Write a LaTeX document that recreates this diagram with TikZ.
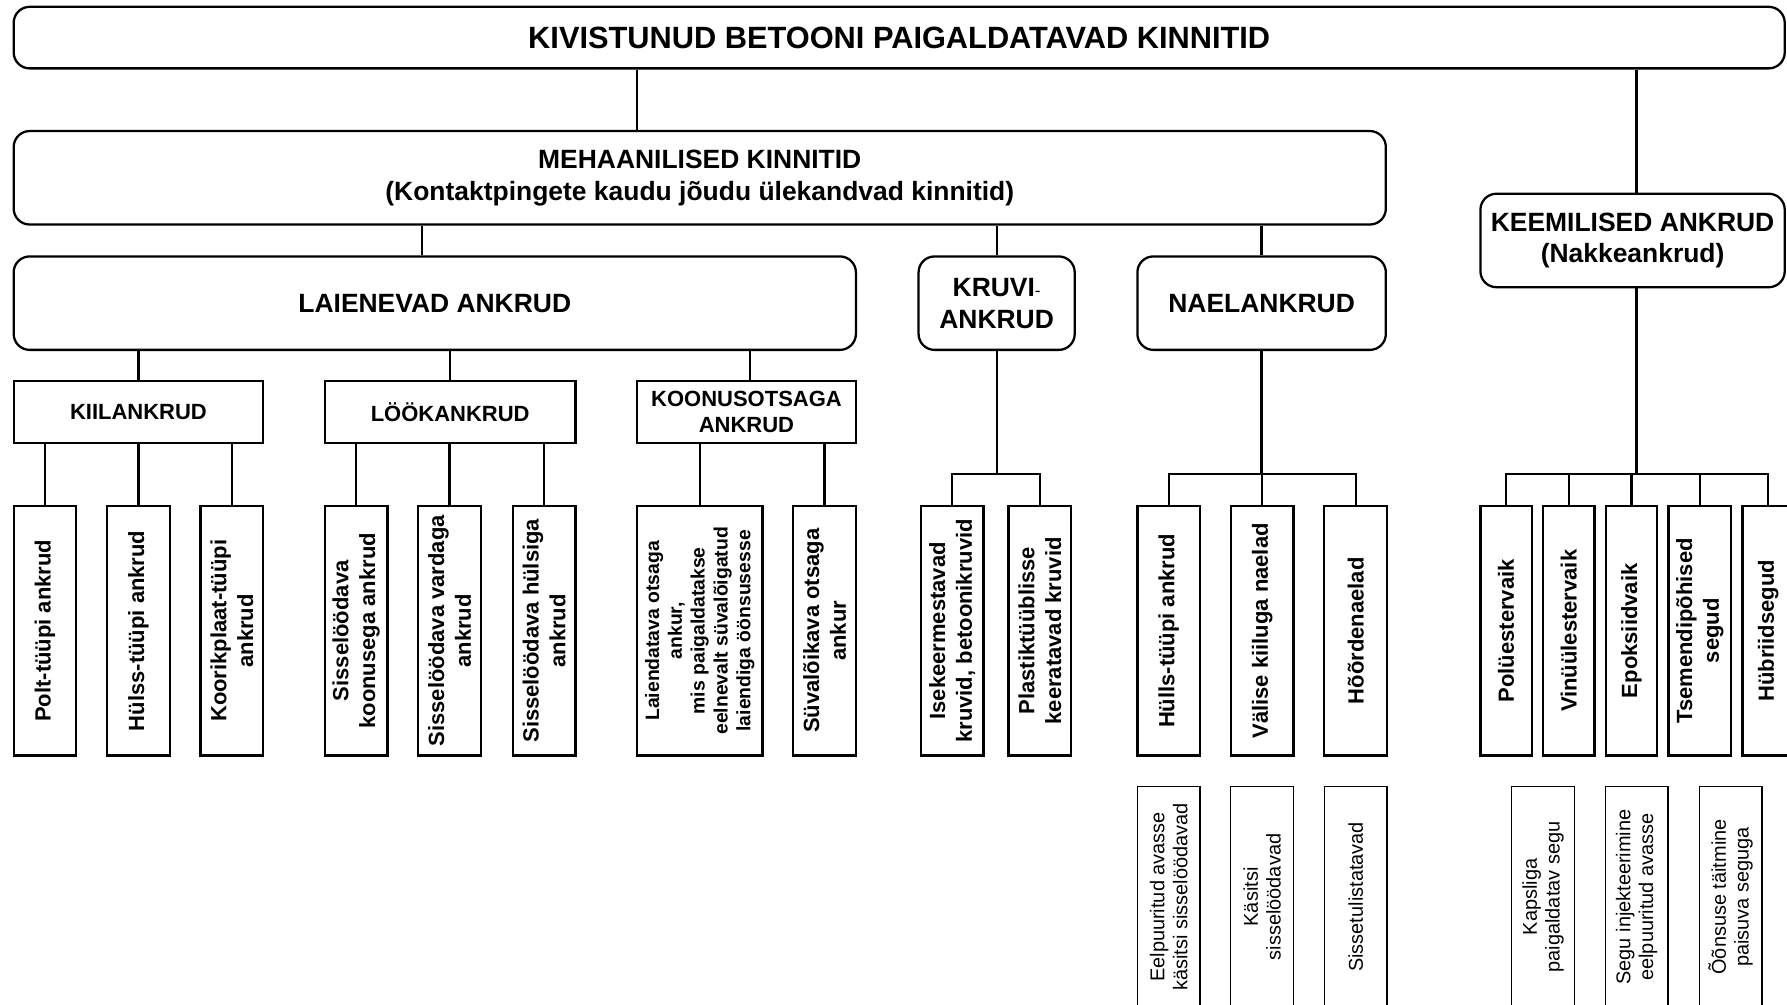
\documentclass[tikz,border=0pt]{standalone}
\usepackage{fontspec}
\setmainfont{Liberation Sans}
\begin{document}
\begin{tikzpicture}[x=1pt,y=-1pt,
  rbox/.style={draw, line width=2pt, rounded corners=14pt, inner sep=0pt, align=center, font=\bfseries\fontsize{23.2}{28}\selectfont},
  sbox/.style={draw, line width=2pt, inner sep=0pt, align=center, minimum height=55pt, font=\bfseries\fontsize{19.3}{23}\selectfont},
  leaf/.style={draw, line width=2pt, inner sep=0pt, align=center, rotate=90, minimum width=219pt, minimum height=55pt, font=\bfseries\fontsize{19.3}{23.5}\selectfont},
  note/.style={draw, line width=1.1pt, inner sep=0pt, align=center, rotate=90, minimum width=194pt, minimum height=55pt, font=\fontsize{17.5}{20}\selectfont},
  conn/.style={line width=2pt}]
\useasboundingbox (0,0) rectangle (1568,881);
\clip (0,0) rectangle (1568,881);

% top levels
\node[rbox, minimum width=1554pt, minimum height=54pt, font=\bfseries\fontsize{27}{32}\selectfont] (top) at (789,33) {KIVISTUNUD BETOONI PAIGALDATAVAD KINNITID};
\node[rbox, minimum width=1204pt, minimum height=82pt] (meh) at (614,156) {MEHAANILISED KINNITID\\(Kontaktpingete kaudu jõudu ülekandvad kinnitid)};
\node[rbox, minimum width=267pt, minimum height=82pt] (keem) at (1432.5,211) {KEEMILISED ANKRUD\\(Nakkeankrud)};

\node[rbox, minimum width=739pt, minimum height=82pt] (laien) at (381.5,266) {LAIENEVAD ANKRUD};
\node[rbox, minimum width=137pt, minimum height=82pt] (kruvi) at (874.5,266) {KRUVI{\mdseries\fontsize{15}{15}\selectfont -}\\ANKRUD};
\node[rbox, minimum width=218pt, minimum height=82pt] (nael) at (1107,266) {NAELANKRUD};

\node[sbox, minimum width=219pt] (kiil) at (121.5,361.5) {KIILANKRUD};
\node[sbox, minimum width=220pt] (look) at (395,361.5) {LÖÖKANKRUD};
\node[sbox, minimum width=192pt] (koon) at (655,361.5) {KOONUSOTSAGA\\ANKRUD};

% leaves
\node[leaf] (k1) at (39.5,553.5) {Polt-tüüpi ankrud};
\node[leaf] (k2) at (121.5,553.5) {Hülss-tüüpi ankrud};
\node[leaf] (k3) at (203.5,553.5) {Koorikplaat-tüüpi\\ankrud};
\node[leaf] (l1) at (312.5,553.5) {Sisselöödava\\koonusega ankrud};
\node[leaf] (l2) at (394.5,553.5) {Sisselöödava vardaga\\ankrud};
\node[leaf] (l3) at (477.5,553.5) {Sisselöödava hülsiga\\ankrud};
\node[leaf, minimum height=110pt, font=\bfseries\fontsize{17}{20}\selectfont] (o1) at (614,553.5) {Laiendatava otsaga\\ankur,\\mis paigaldatakse\\eelnevalt süvalõigatud\\laiendiga öönsusesse};
\node[leaf] (o2) at (723.5,553.5) {Süvalõikava otsaga\\ankur};
\node[leaf] (r1) at (835.5,553.5) {Isekeermestavad\\kruvid, betoonikruvid};
\node[leaf] (r2) at (912.5,553.5) {Plastiktüüblisse\\keeratavad kruvid};
\node[leaf] (n1) at (1025.5,553.5) {Hülls-tüüpi ankrud};
\node[leaf] (n2) at (1107.5,553.5) {Välise kiiluga naelad};
\node[leaf] (n3) at (1189.5,553.5) {Hõõrdenaelad};
\node[leaf, minimum height=45pt] (c1) at (1321.5,553.5) {Polüestervaik};
\node[leaf, minimum height=45pt] (c2) at (1376.5,553.5) {Vinüülestervaik};
\node[leaf, minimum height=45pt] (c3) at (1431.5,553.5) {Epoksiidvaik};
\node[leaf] (c4) at (1491.5,553.5) {Tsemendipõhised\\segud};
\node[leaf, minimum height=45pt] (c5) at (1551.5,553.5) {Hübriidsegud};

% bottom notes
\node[note] (b1) at (1025.5,787) {Eelpuuritud avasse\\käsitsi sisselöödavad};
\node[note] (b2) at (1107.5,787) {Käsitsi\\sisselöödavad};
\node[note] (b3) at (1189.5,787) {Sissetulistatavad};
\node[note] (b4) at (1354,787) {Kapsliga\\paigaldatav segu};
\node[note] (b5) at (1436,787) {Segu injekteerimine\\eelpuuritud avasse};
\node[note] (b6) at (1518.5,787) {Õõnsuse täitmine\\paisuva seguga};

% connectors
\coordinate (xa) at (559,0);
\coordinate (xb) at (1436,0);
\coordinate (xc) at (370,0);
\coordinate (xd) at (658,0);
\coordinate (bar) at (0,416);
\draw[conn] (top.south -| xa) -- (meh.north -| xa);
\draw[conn] (top.south -| xb) -- (keem.north -| xb);
\draw[conn] (meh.south -| xc) -- (laien.north -| xc);
\draw[conn] (meh.south -| kruvi.north) -- (kruvi.north);
\draw[conn] (meh.south -| nael.north) -- (nael.north);
\draw[conn] (laien.south -| kiil.north) -- (kiil.north);
\draw[conn] (laien.south -| look.north) -- (look.north);
\draw[conn] (laien.south -| xd) -- (koon.north -| xd);
\foreach \n in {k1,k2,k3} \draw[conn] (kiil.south -| \n.east) -- (\n.east);
\foreach \n in {l1,l2,l3} \draw[conn] (look.south -| \n.east) -- (\n.east);
\foreach \n in {o1,o2} \draw[conn] (koon.south -| \n.east) -- (\n.east);
\draw[conn] (kruvi.south) -- (kruvi.south |- bar);
\draw[conn] (r1.east) -- (r1.east |- bar) -- (r2.east |- bar) -- (r2.east);
\draw[conn] (nael.south) -- (nael.south |- bar);
\draw[conn] (n1.east) -- (n1.east |- bar) -- (n3.east |- bar) -- (n3.east);
\draw[conn] (n2.east |- bar) -- (n2.east);
\draw[conn] (keem.south -| xb) -- (bar -| xb);
\draw[conn] (c1.east) -- (c1.east |- bar) -- (c5.east |- bar) -- (c5.east);
\foreach \n in {c2,c3,c4} \draw[conn] (\n.east |- bar) -- (\n.east);
\end{tikzpicture}
\end{document}
